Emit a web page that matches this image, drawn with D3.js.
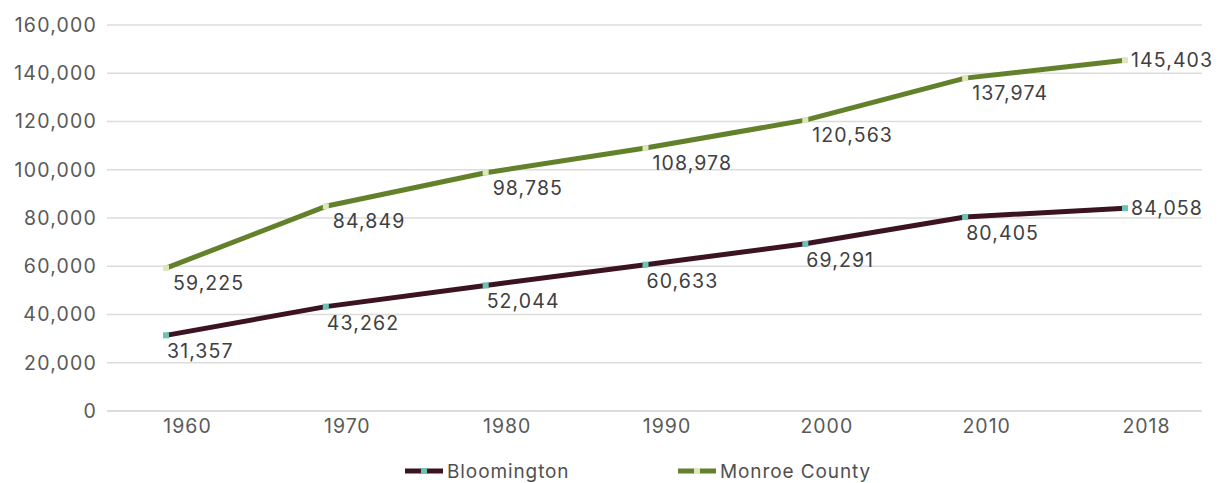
<!DOCTYPE html>
<html>
<head>
<meta charset="utf-8">
<script src="https://cdn.jsdelivr.net/npm/d3@7"></script>
<style>
  html, body { margin: 0; padding: 0; background: #ffffff; }
  svg { display: block; }
  text { font-family: Inter, "Open Sans", sans-serif; }
</style>
</head>
<body>
<svg id="chart" width="1228" height="483"></svg>
<script>
// Population, 1960–2018
const years = ["1960", "1970", "1980", "1990", "2000", "2010", "2018"];
const bloomington = [31357, 43262, 52044, 60633, 69291, 80405, 84058];
const monroeCounty = [59225, 84849, 98785, 108978, 120563, 137974, 145403];
const yTicks = [0, 20000, 40000, 60000, 80000, 100000, 120000, 140000, 160000];
const seriesNames = ["Bloomington", "Monroe County"];

const svg = d3.select("#chart");

const plotLeft = 107, plotRight = 1202;
const x = d3.scalePoint().domain(years).range([166, 1125]);
const y = d3.scaleLinear().domain([0, 160000]).range([411, 25]);
const fmt = d3.format(",");

// horizontal gridlines
svg.append("g")
  .selectAll("line")
  .data(yTicks)
  .join("line")
  .attr("x1", plotLeft).attr("x2", plotRight)
  .attr("y1", d => y(d)).attr("y2", d => y(d))
  .attr("stroke", d => d === 0 ? "#d0d0d0" : "#dcdcdc")
  .attr("stroke-width", 1.6);

// y axis labels
const yAxis = d3.axisLeft(y).tickValues(yTicks).tickFormat(fmt).tickSize(0).tickPadding(0);
svg.append("g")
  .attr("transform", "translate(97,0)")
  .call(yAxis)
  .call(g => g.select(".domain").remove())
  .call(g => g.selectAll("text")
    .attr("font-size", 19.5)
    .attr("letter-spacing", 1.2)
    .attr("fill", "#595959")
    .attr("font-family", "Inter, sans-serif"));

// x axis labels (sit slightly right of the plotted points)
const xAxis = d3.axisBottom(x).tickSize(0).tickPadding(0);
svg.append("g")
  .attr("transform", "translate(21,419)")
  .call(xAxis)
  .call(g => g.select(".domain").remove())
  .call(g => g.selectAll("text")
    .attr("font-size", 19.5)
    .attr("letter-spacing", 1)
    .attr("fill", "#595959"));

const series = [
  { name: seriesNames[0], values: bloomington, color: "#3b1322", marker: "#6cc3b3", dx: 1, dy: 16 },
  { name: seriesNames[1], values: monroeCounty, color: "#62812a", marker: "#dfe6bd", dx: 7, dy: 15 }
];

const line = d3.line()
  .x((d, i) => x(years[i]))
  .y(d => y(d));

series.forEach(s => {
  svg.append("path")
    .datum(s.values)
    .attr("d", line)
    .attr("fill", "none")
    .attr("stroke", s.color)
    .attr("stroke-width", 5)
    .attr("stroke-linejoin", "round");

  svg.append("g")
    .selectAll("rect")
    .data(s.values)
    .join("rect")
    .attr("x", (d, i) => x(years[i]) - 3)
    .attr("y", d => y(d) - 3)
    .attr("width", 6).attr("height", 6)
    .attr("fill", s.marker);

  svg.append("g")
    .selectAll("text")
    .data(s.values)
    .join("text")
    .attr("x", (d, i) => i === years.length - 1 ? x(years[i]) + 6 : x(years[i]) + s.dx)
    .attr("y", (d, i) => i === years.length - 1 ? y(d) : y(d) + s.dy)
    .attr("dominant-baseline", "central")
    .attr("font-size", 19.5)
    .attr("letter-spacing", 1.1)
    .attr("fill", "#404040")
    .text(d => fmt(d));
});

// legend
const legendItems = [
  { name: seriesNames[0], color: "#3b1322", marker: "#6cc3b3", x: 405 },
  { name: seriesNames[1], color: "#62812a", marker: "#dfe6bd", x: 678 }
];
const lg = svg.append("g").attr("transform", "translate(0,471)");
legendItems.forEach(item => {
  lg.append("line")
    .attr("x1", item.x).attr("x2", item.x + 38)
    .attr("y1", 0).attr("y2", 0)
    .attr("stroke", item.color).attr("stroke-width", 5);
  lg.append("rect")
    .attr("x", item.x + 16).attr("y", -3)
    .attr("width", 6).attr("height", 6)
    .attr("fill", item.marker);
  lg.append("text")
    .attr("x", item.x + 42).attr("y", 0)
    .attr("dominant-baseline", "central")
    .attr("font-size", 19)
    .attr("letter-spacing", 0.9)
    .attr("fill", "#505050")
    .text(item.name);
});
</script>
</body>
</html>
